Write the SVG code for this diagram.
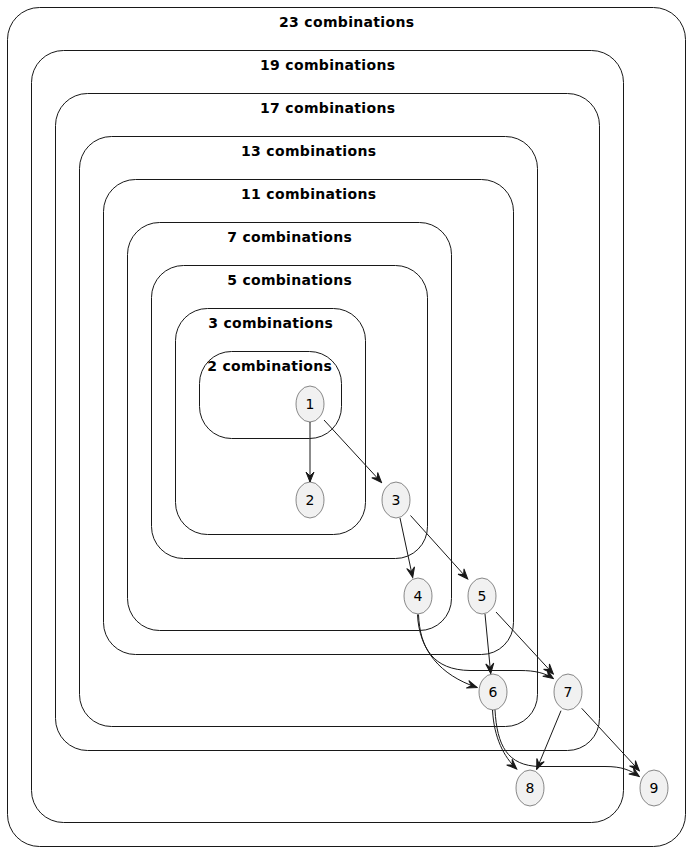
<svg xmlns="http://www.w3.org/2000/svg" width="690" height="851" viewBox="0 0 690 851">
<style>
.grp{fill:none;stroke:#181818;stroke-width:1}
.ttl{font-family:"DejaVu Sans","Liberation Sans",sans-serif;font-size:14px;font-weight:bold;fill:#000;text-anchor:middle}
.nd{fill:#F1F1F1;stroke:#181818;stroke-width:0.5}
.lbl{font-family:"DejaVu Sans","Liberation Sans",sans-serif;font-size:14px;fill:#000;text-anchor:middle}
.edge{fill:none;stroke:#181818;stroke-width:1}
</style>
<defs>
<marker id="arr" markerUnits="userSpaceOnUse" viewBox="-11 -5 12 10" markerWidth="12" markerHeight="10" refX="0" refY="0" orient="auto">
<path d="M0,0 L-10,-4 L-6,0 L-10,4 Z" fill="#181818" stroke="#181818" stroke-width="1" stroke-linejoin="miter"/>
</marker>
</defs>
<rect width="690" height="851" fill="#fff"/>
<g id="g23"><rect class="grp" x="7.5" y="7.5" width="678" height="839" rx="32" ry="32"/><text class="ttl" x="346.5" y="27" textLength="135" lengthAdjust="spacing">23 combinations</text></g>
<g id="g19"><rect class="grp" x="31.5" y="50.5" width="592" height="772" rx="32" ry="32"/><text class="ttl" x="327.5" y="70" textLength="135" lengthAdjust="spacing">19 combinations</text></g>
<g id="g17"><rect class="grp" x="55.5" y="93.5" width="544" height="657" rx="32" ry="32"/><text class="ttl" x="327.5" y="113" textLength="135" lengthAdjust="spacing">17 combinations</text></g>
<g id="g13"><rect class="grp" x="79.5" y="136.5" width="458" height="590" rx="32" ry="32"/><text class="ttl" x="308.5" y="156" textLength="135" lengthAdjust="spacing">13 combinations</text></g>
<g id="g11"><rect class="grp" x="103.5" y="179.5" width="410" height="475" rx="32" ry="32"/><text class="ttl" x="308.5" y="199" textLength="135" lengthAdjust="spacing">11 combinations</text></g>
<g id="g7"><rect class="grp" x="127.5" y="222.5" width="324" height="408" rx="32" ry="32"/><text class="ttl" x="289.5" y="242" textLength="124.5" lengthAdjust="spacing">7 combinations</text></g>
<g id="g5"><rect class="grp" x="151.5" y="265.5" width="276" height="293" rx="32" ry="32"/><text class="ttl" x="289.5" y="285" textLength="124.5" lengthAdjust="spacing">5 combinations</text></g>
<g id="g3"><rect class="grp" x="175.5" y="308.5" width="190" height="226" rx="32" ry="32"/><text class="ttl" x="270.5" y="328" textLength="124.5" lengthAdjust="spacing">3 combinations</text></g>
<g id="g2"><rect class="grp" x="199.5" y="351.5" width="142" height="87" rx="32" ry="32"/><text class="ttl" x="269.5" y="371" textLength="124.5" lengthAdjust="spacing">2 combinations</text></g>
<g id="connectors">
<path class="edge" marker-end="url(#arr)" d="M310,422 L310,482"/>
<path class="edge" marker-end="url(#arr)" d="M324,420 L381.5,482.5"/>
<path class="edge" marker-end="url(#arr)" d="M400,518 L412.7,577.5"/>
<path class="edge" marker-end="url(#arr)" d="M410.5,515.5 L467.7,579"/>
<path class="edge" marker-end="url(#arr)" d="M417.5,614.5 C419,650 440,675 477,687.5"/>
<path class="edge" marker-end="url(#arr)" d="M418.5,614.5 C420,648 433,670 470,670.5 L520,670.5 C535,670.5 545,673 553.3,678.5"/>
<path class="edge" marker-end="url(#arr)" d="M485,614 L490.7,673.5"/>
<path class="edge" marker-end="url(#arr)" d="M496,612 L553.3,674"/>
<path class="edge" marker-end="url(#arr)" d="M492.5,710 C494,738 504,757 516.7,769"/>
<path class="edge" marker-end="url(#arr)" d="M495,710 C497,745 507,766 540,766.5 L605,766.5 C622,766.5 630,770 639.3,776.5"/>
<path class="edge" marker-end="url(#arr)" d="M561,710.7 L536.7,769.3"/>
<path class="edge" marker-end="url(#arr)" d="M581.7,708.3 L639.3,770.7"/>
</g>
<g id="n1"><ellipse class="nd" cx="310" cy="404" rx="14" ry="18"/><text class="lbl" x="310" y="409">1</text></g>
<g id="n2"><ellipse class="nd" cx="310" cy="500" rx="14" ry="18"/><text class="lbl" x="310" y="505">2</text></g>
<g id="n3"><ellipse class="nd" cx="396" cy="500" rx="14" ry="18"/><text class="lbl" x="396" y="505">3</text></g>
<g id="n4"><ellipse class="nd" cx="418" cy="596" rx="14" ry="18"/><text class="lbl" x="418" y="601">4</text></g>
<g id="n5"><ellipse class="nd" cx="482" cy="596" rx="14" ry="18"/><text class="lbl" x="482" y="601">5</text></g>
<g id="n6"><ellipse class="nd" cx="493" cy="692" rx="14" ry="18"/><text class="lbl" x="493" y="697">6</text></g>
<g id="n7"><ellipse class="nd" cx="568" cy="692" rx="14" ry="18"/><text class="lbl" x="568" y="697">7</text></g>
<g id="n8"><ellipse class="nd" cx="530" cy="788" rx="14" ry="18"/><text class="lbl" x="530" y="793">8</text></g>
<g id="n9"><ellipse class="nd" cx="654" cy="788" rx="14" ry="18"/><text class="lbl" x="654" y="793">9</text></g>
</svg>
